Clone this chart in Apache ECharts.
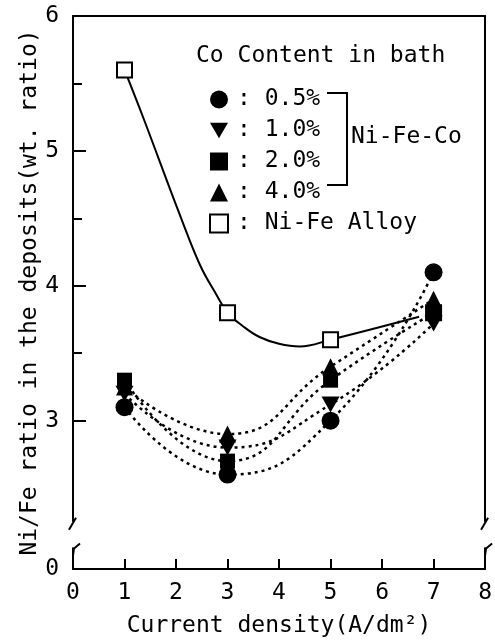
<!DOCTYPE html>
<html>
<head>
<meta charset="utf-8">
<script src="https://cdn.jsdelivr.net/npm/echarts@6/dist/echarts.min.js"></script>
<style>
  html, body { margin: 0; padding: 0; background: #fff; }
  #main { width: 495px; height: 643px; }
</style>
</head>
<body>
<div id="main"></div>
<script>
// current density (A/dm2)
const xValues = [1, 3, 5, 7];
// Ni/Fe ratio, Co content in bath
const co05 = [3.1, 2.6, 3.0, 4.1];
const co10 = [3.2, 2.8, 3.12, 3.72];
const co20 = [3.3, 2.7, 3.3, 3.8];
const co40 = [3.25, 2.9, 3.4, 3.9];
const niFe = [5.6, 3.8, 3.6, 3.8];
// solid fitted curve for Ni-Fe alloy
const fitX = [1, 1.37, 2.08, 2.47, 2.79, 3, 3.3, 3.62, 4, 4.4, 5, 6.72];
const fitY = [5.6, 5.24, 4.52, 4.15, 3.93, 3.8, 3.7, 3.62, 3.57, 3.55, 3.6, 3.77];

const xTicks = [0, 1, 2, 3, 4, 5, 6, 7, 8];
// the axis is broken: the bottom value (Y0) stands for 0
const Y0 = 1.9;
const yLabelValues = [Y0, 3, 4, 5, 6];
const yTickLabels = ['0', '3', '4', '5', '6'];
const yMajorTicks = [3, 4, 5, 6];
const yMinorTicks = [3.5, 4.5, 5.5];
const breakHi = 2.25, breakLo = 2.06;

const FONT = 'DejaVu Sans Mono';
const invTri = 'path://M0,0 L20,0 L10,17 Z';

function pairs(xs, ys) {
  return xs.map((x, i) => [x, ys[i]]);
}

let chart = echarts.init(document.getElementById('main'));

const dotted = { color: '#000', width: 2.5, type: [3, 4] };
const solid = { color: '#000', opacity: 1 };

let option = {
  animation: false,
  backgroundColor: '#fff',
  textStyle: { fontFamily: FONT, color: '#000' },
  title: {
    text: 'Co Content in bath',
    left: 191,
    top: 40,
    textStyle: { fontFamily: FONT, fontSize: 23, fontWeight: 'normal', color: '#000' }
  },
  legend: {
    orient: 'vertical',
    left: 204,
    top: 83,
    itemWidth: 18,
    itemHeight: 18,
    itemGap: 8,
    selectedMode: false,
    formatter: function (name) { return '{g|}: ' + name; },
    itemStyle: { opacity: 1 },
    textStyle: {
      fontFamily: FONT, fontSize: 23, color: '#000',
      rich: { g: { width: 4 } }
    },
    data: [
      { name: '0.5%', icon: 'circle' },
      { name: '1.0%', icon: invTri },
      { name: '2.0%', icon: 'rect' },
      { name: '4.0%', icon: 'triangle' },
      { name: 'Ni-Fe Alloy', icon: 'rect', itemStyle: { color: '#fff', borderColor: '#000', borderWidth: 2, opacity: 1 } }
    ]
  },
  grid: { left: 73, right: 9, top: 16, bottom: 73 },
  xAxis: [
    {
      type: 'value', min: 0, max: 8, interval: 1,
      name: 'Current density(A/dm²)',
      nameLocation: 'middle',
      nameGap: 46,
      nameTextStyle: { fontFamily: FONT, fontSize: 23, color: '#000' },
      axisLine: { lineStyle: { color: '#000', width: 2 } },
      axisTick: { inside: true, length: 10, lineStyle: { color: '#000', width: 2 } },
      axisLabel: {
        margin: 13, fontFamily: FONT, fontSize: 23, color: '#000',
        formatter: function (v) { return xTicks.indexOf(v) >= 0 ? String(v) : ''; }
      },
      splitLine: { show: false }
    },
    {
      type: 'value', min: 0, max: 8, position: 'top',
      axisLine: { show: true, lineStyle: { color: '#000', width: 2 } },
      axisTick: { show: false }, axisLabel: { show: false }, splitLine: { show: false }
    }
  ],
  yAxis: [
    {
      type: 'value', min: Y0, max: 6, position: 'left',
      name: 'Ni/Fe ratio in the deposits(wt. ratio)',
      nameLocation: 'middle',
      nameGap: 31,
      nameMoveOverlap: false,
      nameTextStyle: { fontFamily: FONT, fontSize: 23, color: '#000' },
      axisLine: { show: true, lineStyle: { color: '#000', width: 2 } },
      axisTick: { inside: true, length: 13, customValues: yMajorTicks, lineStyle: { color: '#000', width: 2 } },
      axisLabel: {
        margin: 14, fontFamily: FONT, fontSize: 23, color: '#000',
        customValues: yLabelValues,
        formatter: function (v) {
          let i = yLabelValues.indexOf(v);
          return i >= 0 ? yTickLabels[i] : '';
        }
      },
      splitLine: { show: false }
    },
    {
      type: 'value', min: Y0, max: 6, position: 'left',
      axisLine: { show: false },
      axisTick: { inside: true, length: 9, customValues: yMinorTicks, lineStyle: { color: '#000', width: 2 } },
      axisLabel: { show: false }, splitLine: { show: false }
    },
    {
      type: 'value', min: Y0, max: 6, position: 'right',
      axisLine: { show: true, lineStyle: { color: '#000', width: 2 } },
      axisTick: { show: false }, axisLabel: { show: false }, splitLine: { show: false }
    }
  ],
  series: [
    { name: 'fit', type: 'line', data: pairs(fitX, fitY), smooth: 0.4, symbol: 'none',
      lineStyle: { color: '#000', width: 2 }, z: 2 },
    { name: 'c05', type: 'line', data: pairs(xValues, co05), smooth: 0.5, symbol: 'none', lineStyle: dotted, z: 2 },
    { name: 'c10', type: 'line', data: pairs(xValues, co10), smooth: 0.5, symbol: 'none', lineStyle: dotted, z: 2 },
    { name: 'c20', type: 'line', data: pairs(xValues, co20), smooth: 0.5, symbol: 'none', lineStyle: dotted, z: 2 },
    { name: 'c40', type: 'line', data: pairs(xValues, co40), smooth: 0.5, symbol: 'none', lineStyle: dotted, z: 2 },
    { name: 'Ni-Fe Alloy', type: 'scatter', data: pairs(xValues, niFe), symbol: 'rect', symbolSize: 15,
      itemStyle: { color: '#fff', borderColor: '#000', borderWidth: 2, opacity: 1 }, z: 3 },
    { name: '0.5%', type: 'scatter', data: pairs(xValues, co05), symbol: 'circle', symbolSize: 18,
      itemStyle: solid, z: 4 },
    { name: '4.0%', type: 'scatter', data: pairs(xValues, co40), symbol: 'triangle', symbolSize: 17,
      itemStyle: solid, z: 4 },
    { name: '2.0%', type: 'scatter', data: pairs(xValues, co20), symbol: 'rect', symbolSize: 15,
      itemStyle: solid, z: 4 },
    { name: '1.0%', type: 'scatter', data: pairs(xValues, co10), symbol: invTri, symbolSize: [18, 16],
      itemStyle: solid, z: 4 }
  ]
};

chart.setOption(option);

// axis break marks and bracket for the Ni-Fe-Co group
let hiL = chart.convertToPixel({ gridIndex: 0 }, [0, breakHi]);
let loL = chart.convertToPixel({ gridIndex: 0 }, [0, breakLo]);
let hiR = chart.convertToPixel({ gridIndex: 0 }, [8, breakHi]);
let loR = chart.convertToPixel({ gridIndex: 0 }, [8, breakLo]);

function breakGroup(hi, lo) {
  let x = hi[0];
  return [
    { type: 'rect', shape: { x: x - 4, y: hi[1], width: 8, height: lo[1] - hi[1] },
      style: { fill: '#fff' }, z: 100 },
    { type: 'line', shape: { x1: x - 4, y1: hi[1] + 8, x2: x + 3, y2: hi[1] - 4 },
      style: { stroke: '#000', lineWidth: 2 }, z: 101 },
    { type: 'polyline', shape: { points: [[x, lo[1] + 8], [x + 1, lo[1] + 1], [x + 7, lo[1] - 4]] },
      style: { stroke: '#000', lineWidth: 2, fill: null }, z: 101 }
  ];
}

chart.setOption({
  graphic: breakGroup(hiL, loL).concat(breakGroup(hiR, loR)).concat([
    { type: 'polyline', shape: { points: [[327, 93], [347, 93], [347, 185], [327, 185]] },
      style: { stroke: '#000', lineWidth: 2, fill: null }, z: 101 },
    { type: 'text', left: 351, top: 126,
      style: { text: 'Ni-Fe-Co', font: '23px "DejaVu Sans Mono"', fill: '#000' }, z: 101 }
  ])
});
</script>
</body>
</html>
